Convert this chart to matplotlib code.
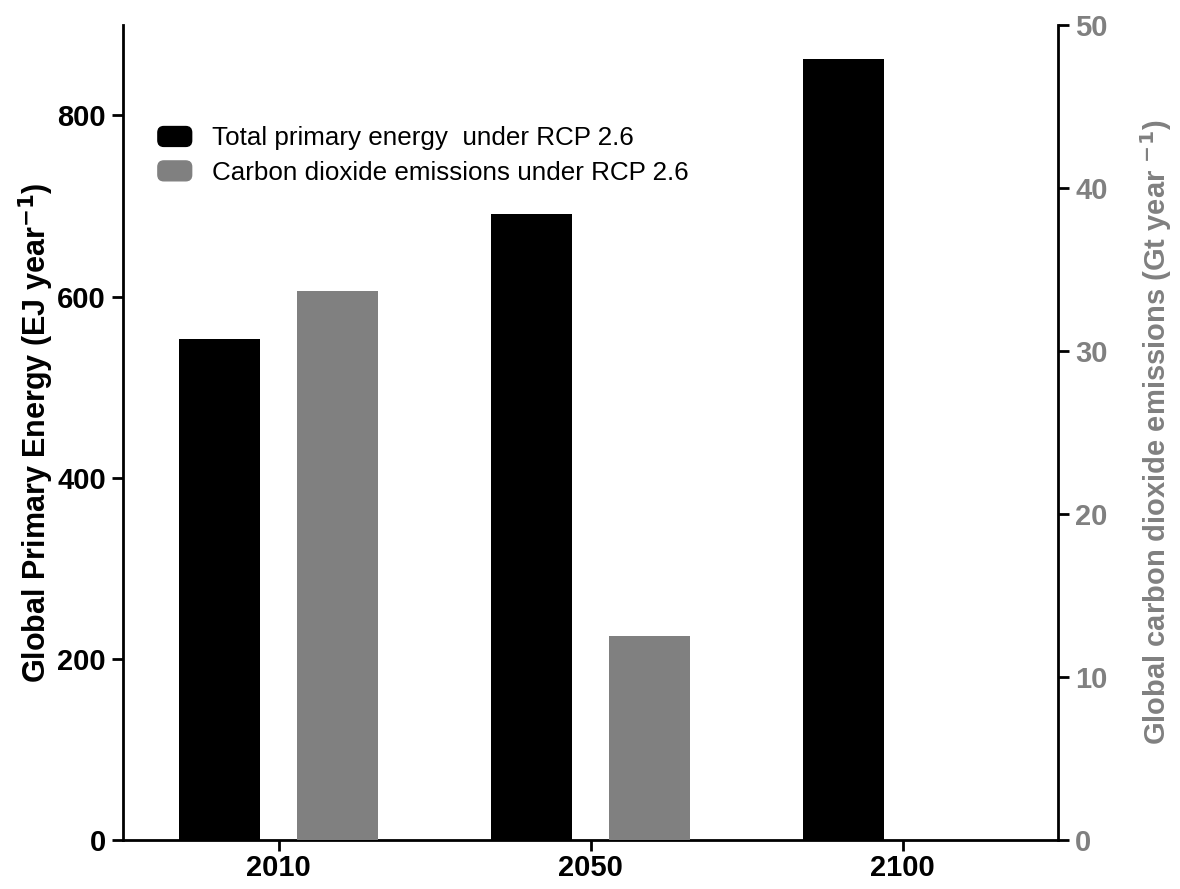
import matplotlib
matplotlib.use("Agg")
import matplotlib.pyplot as plt
import numpy as np
from matplotlib.patches import Patch, FancyBboxPatch
from matplotlib.legend_handler import HandlerPatch

years = ["2010", "2050", "2100"]
energy = [553, 691, 862]          # EJ / year
co2 = [33.7, 12.5, 0.0]           # Gt / year

plt.rcParams['font.family'] = ['Liberation Sans', 'DejaVu Sans']

fig = plt.figure(figsize=(11.8, 8.89), dpi=100)
ax = fig.add_axes([0.104, 0.055, 0.793, 0.917])
ax2 = ax.twinx()

x = np.arange(len(years))
w = 0.26
off = 0.19
ax.bar(x - off, energy, width=w, color="black", zorder=2)
ax2.bar(x + off, co2, width=w, color="#808080", zorder=2)

ax.set_xlim(-0.5, 2.5)
ax.set_ylim(0, 900)
ax2.set_ylim(0, 50)
ax.set_yticks([0, 200, 400, 600, 800])
ax2.set_yticks([0, 10, 20, 30, 40, 50])
ax.set_xticks(x)
ax.set_xticklabels(years)

for a in (ax, ax2):
    for s in a.spines.values():
        s.set_linewidth(2)
    a.spines['top'].set_visible(False)
ax.spines['right'].set_visible(False)
ax2.spines['left'].set_visible(False)
ax2.spines['bottom'].set_visible(False)

ax.tick_params(axis='y', direction='out', length=8, width=2, labelsize=21, pad=4)
ax.tick_params(axis='x', direction='out', length=8, width=2, labelsize=21, pad=2)
ax2.tick_params(axis='y', direction='out', length=8, width=2, labelsize=21, labelcolor="#808080", pad=4)
for lbl in ax.get_yticklabels() + ax.get_xticklabels() + ax2.get_yticklabels():
    lbl.set_fontweight('bold')

ax.set_ylabel("Global Primary Energy (EJ year$^{\\mathbf{-1}}$)", fontsize=22, fontweight='bold')
ax.yaxis.set_label_coords(-0.071, 0.5)
ax2.set_ylabel("Global carbon dioxide emissions (Gt year $^{\\mathbf{-1}}$)", fontsize=21, fontweight='bold',
               color="#808080", labelpad=22)


def rounded(legend, orig_handle, xdescent, ydescent, width, height, fontsize):
    return FancyBboxPatch((-xdescent, -ydescent), width, height,
                          boxstyle="round,pad=0,rounding_size=%f" % (height * 0.3))


handles = [Patch(facecolor="black", edgecolor="black"), Patch(facecolor="#808080", edgecolor="#808080")]
fig.legend(handles, ["Total primary energy  under RCP 2.6", "Carbon dioxide emissions under RCP 2.6"],
           loc='upper left', bbox_to_anchor=(0.114, 0.884), frameon=False, fontsize=18.7,
           handlelength=1.3, handleheight=0.8, handletextpad=0.8, labelspacing=0.4,
           handler_map={Patch: HandlerPatch(patch_func=rounded)})

fig.savefig("out.png", dpi=100)
